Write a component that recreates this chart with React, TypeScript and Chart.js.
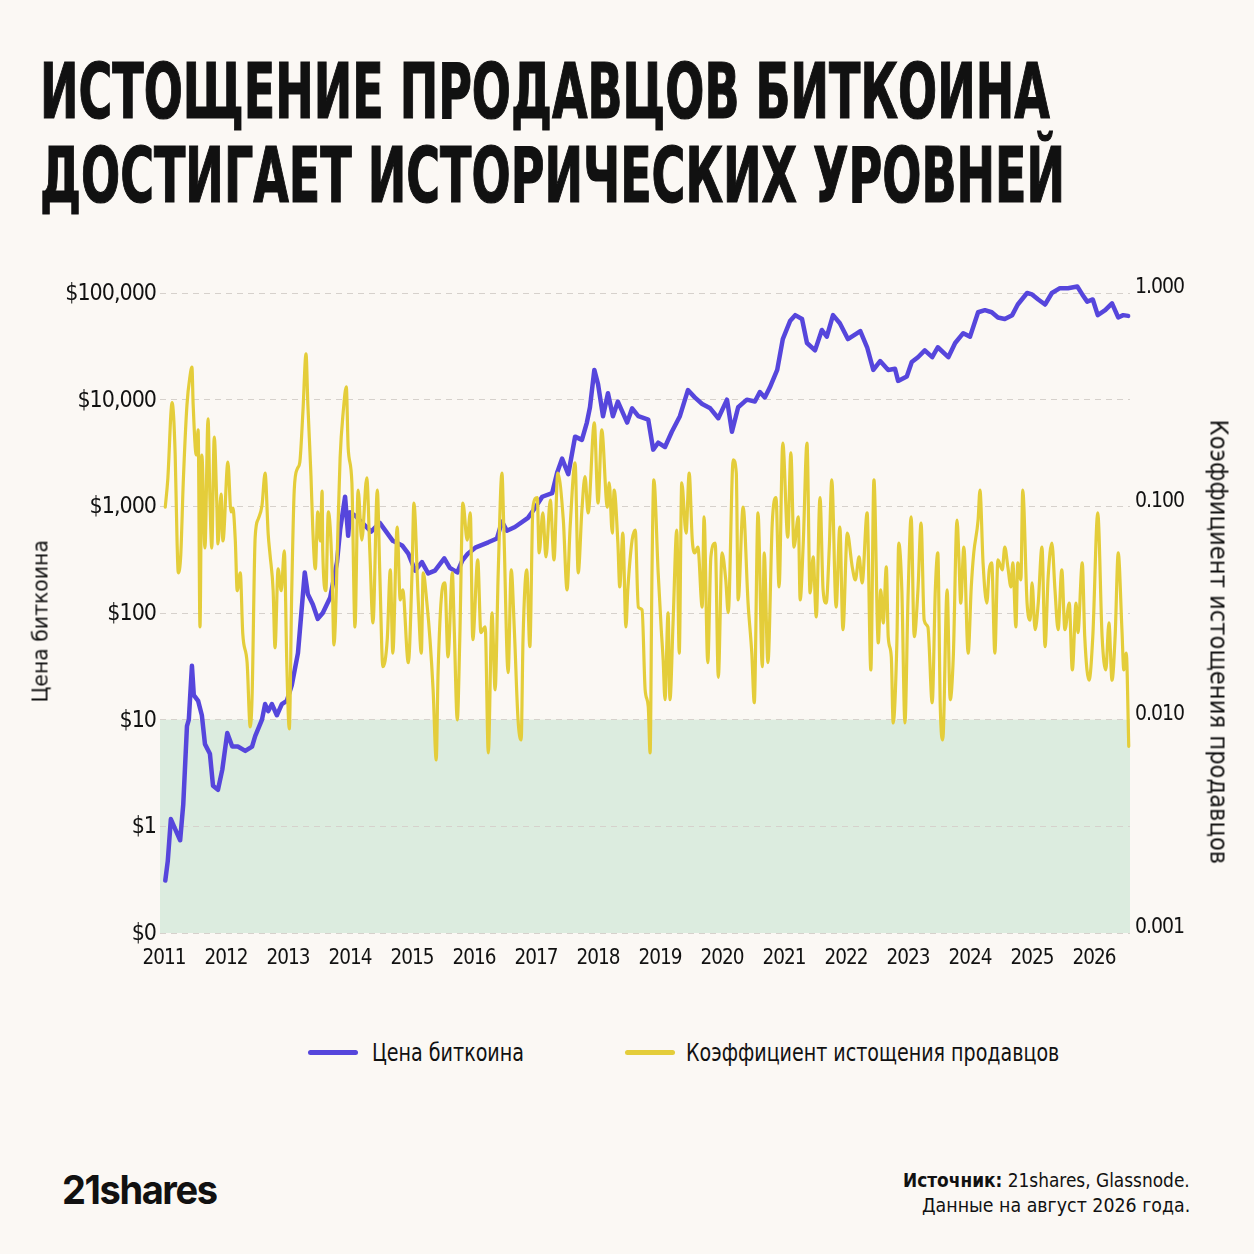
import React, { useEffect, useLayoutEffect, useRef } from 'react';
import { Chart, registerables } from 'chart.js';

Chart.register(...registerables);

// ---------- DATA ----------
const yearTicks = [2011, 2012, 2013, 2014, 2015, 2016, 2017, 2018, 2019, 2020, 2021, 2022, 2023, 2024, 2025, 2026];
const priceTicks = [0.1, 1, 10, 100, 1000, 10000, 100000];
const priceTickLabels = ['$0', '$1', '$10', '$100', '$1,000', '$10,000', '$100,000'];
const ratioTicks = [0.001, 0.01, 0.1, 1];
const ratioTickLabels = ['0.001', '0.010', '0.100', '1.000'];
const zoneTopPrice = 10;

const priceYears = [
  2011.02, 2011.06, 2011.11, 2011.18, 2011.26, 2011.31, 2011.37, 2011.40, 2011.45, 2011.48,
  2011.55, 2011.61, 2011.66, 2011.74, 2011.79, 2011.87, 2011.94, 2012.02, 2012.10, 2012.19,
  2012.31, 2012.42, 2012.47, 2012.58, 2012.63, 2012.68, 2012.74, 2012.82, 2012.90, 2012.98,
  2013.06, 2013.16, 2013.27, 2013.32, 2013.40, 2013.48, 2013.56, 2013.68, 2013.79, 2013.84,
  2013.92, 2013.97, 2014.00, 2014.08, 2014.34, 2014.48, 2014.69, 2014.84, 2014.94, 2015.05,
  2015.16, 2015.26, 2015.37, 2015.52, 2015.61, 2015.73, 2015.81, 2015.90, 2016.02, 2016.23,
  2016.37, 2016.45, 2016.53, 2016.66, 2016.87, 2016.98, 2017.10, 2017.26, 2017.34, 2017.42,
  2017.52, 2017.63, 2017.74, 2017.82, 2017.87, 2017.94, 2018.00, 2018.08, 2018.16, 2018.24,
  2018.32, 2018.47, 2018.55, 2018.65, 2018.81, 2018.89, 2018.97, 2019.08, 2019.19, 2019.32,
  2019.45, 2019.56, 2019.68, 2019.81, 2019.94, 2020.08, 2020.16, 2020.26, 2020.40, 2020.53,
  2020.61, 2020.69, 2020.77, 2020.89, 2020.98, 2021.10, 2021.18, 2021.29, 2021.37, 2021.50,
  2021.61, 2021.69, 2021.79, 2021.90, 2022.03, 2022.15, 2022.23, 2022.34, 2022.44, 2022.55,
  2022.68, 2022.79, 2022.84, 2022.98, 2023.06, 2023.16, 2023.27, 2023.39, 2023.48, 2023.65,
  2023.76, 2023.89, 2024.00, 2024.13, 2024.24, 2024.35, 2024.45, 2024.56, 2024.68, 2024.77,
  2024.92, 2025.00, 2025.10, 2025.21, 2025.32, 2025.45, 2025.58, 2025.73, 2025.81, 2025.89,
  2025.98, 2026.06, 2026.18, 2026.29, 2026.39, 2026.47, 2026.55,
];
const priceValues = [
  0.31, 0.47, 1.17, 0.94, 0.74, 1.6, 8.7, 10, 32, 17,
  15, 11, 5.9, 4.8, 2.4, 2.2, 3.4, 7.5, 5.6, 5.6,
  5.1, 5.6, 7.0, 10, 14, 12, 14, 11, 14, 15,
  21, 42, 240, 150, 120, 88, 100, 140, 300, 600,
  1230, 530, 880, 820, 580, 700, 475, 430, 360, 250,
  300, 235, 250, 325, 265, 240, 310, 360, 410, 460,
  500, 720, 590, 640, 780, 960, 1230, 1330, 2060, 2800,
  2000, 4500, 4200, 6100, 8500, 19000, 14000, 7000, 11500, 7000,
  9600, 6100, 8300, 7000, 6500, 3400, 3950, 3600, 5000, 7000,
  12300, 10500, 9100, 8300, 6700, 10000, 5000, 8500, 10000, 9600,
  11800, 10500, 13000, 19000, 37000, 55000, 62000, 57000, 34000, 29000,
  45000, 39000, 62000, 52000, 37000, 41000, 44000, 31000, 19000, 23000,
  19000, 19500, 15000, 16500, 22500, 25000, 29000, 25000, 31000, 25000,
  34000, 42000, 39000, 66000, 69000, 66000, 59000, 57000, 62000, 78000,
  100000, 97000, 87000, 78000, 100000, 111000, 111000, 115000, 97000, 83000,
  87000, 62000, 69000, 80000, 59000, 62000, 61000,
];

const ratioYears = [
  2011.02, 2011.06, 2011.13, 2011.18, 2011.21, 2011.23, 2011.27, 2011.31, 2011.37, 2011.42,
  2011.45, 2011.47, 2011.52, 2011.55, 2011.58, 2011.61, 2011.66, 2011.71, 2011.74, 2011.77,
  2011.81, 2011.85, 2011.87, 2011.92, 2011.95, 2012.03, 2012.08, 2012.11, 2012.15, 2012.18,
  2012.23, 2012.27, 2012.34, 2012.39, 2012.42, 2012.47, 2012.52, 2012.58, 2012.63, 2012.68,
  2012.71, 2012.76, 2012.79, 2012.84, 2012.89, 2012.94, 2012.98, 2013.02, 2013.06, 2013.10,
  2013.15, 2013.19, 2013.24, 2013.29, 2013.32, 2013.37, 2013.40, 2013.44, 2013.48, 2013.52,
  2013.55, 2013.56, 2013.61, 2013.65, 2013.71, 2013.74, 2013.81, 2013.84, 2013.89, 2013.94,
  2013.97, 2014.03, 2014.08, 2014.13, 2014.19, 2014.27, 2014.32, 2014.37, 2014.44, 2014.48,
  2014.53, 2014.60, 2014.65, 2014.69, 2014.76, 2014.81, 2014.85, 2014.94, 2015.00, 2015.03,
  2015.10, 2015.15, 2015.18, 2015.24, 2015.29, 2015.34, 2015.39, 2015.42, 2015.48, 2015.53,
  2015.58, 2015.65, 2015.68, 2015.73, 2015.77, 2015.82, 2015.89, 2015.94, 2015.98, 2016.06,
  2016.11, 2016.18, 2016.23, 2016.29, 2016.34, 2016.39, 2016.45, 2016.48, 2016.55, 2016.60,
  2016.65, 2016.71, 2016.76, 2016.79, 2016.85, 2016.90, 2016.95, 2017.02, 2017.05, 2017.11,
  2017.16, 2017.23, 2017.29, 2017.35, 2017.44, 2017.50, 2017.55, 2017.63, 2017.68, 2017.74,
  2017.79, 2017.84, 2017.94, 2018.00, 2018.06, 2018.15, 2018.18, 2018.23, 2018.26, 2018.32,
  2018.35, 2018.40, 2018.45, 2018.48, 2018.55, 2018.60, 2018.65, 2018.71, 2018.76, 2018.81,
  2018.84, 2018.87, 2018.90, 2018.97, 2019.02, 2019.05, 2019.08, 2019.13, 2019.16, 2019.21,
  2019.27, 2019.31, 2019.35, 2019.42, 2019.47, 2019.52, 2019.56, 2019.61, 2019.68, 2019.71,
  2019.77, 2019.82, 2019.89, 2019.94, 2020.00, 2020.06, 2020.10, 2020.18, 2020.23, 2020.26,
  2020.34, 2020.42, 2020.48, 2020.52, 2020.58, 2020.65, 2020.68, 2020.74, 2020.81, 2020.87,
  2020.92, 2020.98, 2021.06, 2021.11, 2021.16, 2021.23, 2021.26, 2021.31, 2021.37, 2021.42,
  2021.47, 2021.52, 2021.58, 2021.63, 2021.68, 2021.73, 2021.77, 2021.84, 2021.90, 2021.95,
  2022.02, 2022.10, 2022.15, 2022.21, 2022.26, 2022.34, 2022.40, 2022.45, 2022.52, 2022.56,
  2022.60, 2022.65, 2022.68, 2022.73, 2022.76, 2022.82, 2022.85, 2022.90, 2022.95, 2023.00,
  2023.05, 2023.10, 2023.16, 2023.21, 2023.26, 2023.32, 2023.39, 2023.44, 2023.48, 2023.52,
  2023.56, 2023.63, 2023.68, 2023.73, 2023.79, 2023.82, 2023.85, 2023.90, 2023.97, 2024.02,
  2024.06, 2024.13, 2024.16, 2024.21, 2024.27, 2024.31, 2024.35, 2024.40, 2024.45, 2024.52,
  2024.56, 2024.61, 2024.66, 2024.69, 2024.74, 2024.77, 2024.82, 2024.85, 2024.92, 2024.97,
  2025.00, 2025.05, 2025.10, 2025.16, 2025.21, 2025.26, 2025.32, 2025.37, 2025.42, 2025.48,
  2025.53, 2025.60, 2025.65, 2025.71, 2025.74, 2025.81, 2025.85, 2025.92, 2025.98, 2026.06,
  2026.13, 2026.19, 2026.24, 2026.29, 2026.34, 2026.39, 2026.45, 2026.48, 2026.52, 2026.56,
];
const ratioValues = [
  0.0992, 0.133, 0.306, 0.174, 0.0688, 0.0488, 0.0592, 0.129, 0.299, 0.409,
  0.449, 0.299, 0.174, 0.228, 0.0272, 0.174, 0.0638, 0.257, 0.109, 0.0638,
  0.211, 0.106, 0.0666, 0.114, 0.0688, 0.161, 0.0941, 0.0982, 0.0688, 0.0402,
  0.0488, 0.0253, 0.0185, 0.00924, 0.0127, 0.0717, 0.0873, 0.101, 0.143, 0.0741,
  0.0592, 0.0402, 0.0217, 0.0509, 0.0402, 0.0618, 0.0185, 0.00905, 0.0402, 0.119,
  0.150, 0.161, 0.277, 0.518, 0.299, 0.139, 0.0774, 0.0509, 0.0941, 0.0688,
  0.118, 0.0618, 0.0402, 0.0941, 0.0509, 0.0224, 0.0873, 0.169, 0.277, 0.363,
  0.188, 0.129, 0.0272, 0.119, 0.0695, 0.136, 0.0605, 0.0284, 0.119, 0.0488,
  0.0177, 0.0237, 0.0504, 0.0205, 0.0800, 0.0364, 0.0406, 0.0185, 0.0488, 0.1036,
  0.0364, 0.0205, 0.0488, 0.0352, 0.0237, 0.0138, 0.00647, 0.0166, 0.0393, 0.0438,
  0.0197, 0.0488, 0.0272, 0.00997, 0.0237, 0.1036, 0.0695, 0.0931, 0.0237, 0.0561,
  0.0256, 0.0272, 0.00698, 0.0317, 0.0138, 0.0488, 0.143, 0.0800, 0.0166, 0.0504,
  0.0264, 0.00997, 0.00803, 0.0237, 0.0504, 0.0220, 0.0992, 0.110, 0.0605, 0.0931,
  0.0579, 0.107, 0.0561, 0.143, 0.0863, 0.0406, 0.0800, 0.160, 0.0488, 0.0962,
  0.138, 0.0931, 0.246, 0.1036, 0.228, 0.0992, 0.129, 0.0749, 0.119, 0.0673,
  0.0419, 0.0749, 0.0272, 0.0406, 0.0695, 0.0774, 0.0337, 0.0327, 0.0138, 0.0115,
  0.00698, 0.0488, 0.133, 0.0488, 0.0264, 0.0191, 0.0124, 0.0317, 0.0124, 0.0284,
  0.0774, 0.0205, 0.129, 0.0749, 0.143, 0.0695, 0.0605, 0.0644, 0.0337, 0.0892,
  0.0185, 0.0579, 0.0673, 0.0158, 0.0605, 0.0452, 0.0317, 0.165, 0.143, 0.0364,
  0.0992, 0.0352, 0.0205, 0.0120, 0.0931, 0.0177, 0.0605, 0.0185, 0.0835, 0.110,
  0.0419, 0.198, 0.0717, 0.178, 0.0644, 0.0892, 0.0364, 0.0673, 0.198, 0.0393,
  0.0579, 0.0303, 0.110, 0.0406, 0.0352, 0.0644, 0.133, 0.0337, 0.0800, 0.0264,
  0.0749, 0.0520, 0.0452, 0.0579, 0.0438, 0.0931, 0.0171, 0.133, 0.0229, 0.0406,
  0.0284, 0.0520, 0.0245, 0.0197, 0.00965, 0.0229, 0.0673, 0.0406, 0.00965, 0.0376,
  0.0892, 0.0245, 0.0406, 0.0835, 0.0293, 0.0272, 0.0120, 0.0406, 0.0605, 0.0115,
  0.00803, 0.0406, 0.0124, 0.0197, 0.0863, 0.0579, 0.0352, 0.0644, 0.0205, 0.0419,
  0.0605, 0.0863, 0.119, 0.0543, 0.0352, 0.0504, 0.0543, 0.0205, 0.0561, 0.0504,
  0.0644, 0.0520, 0.0419, 0.0543, 0.0272, 0.0543, 0.0452, 0.119, 0.0352, 0.0293,
  0.0438, 0.0264, 0.0352, 0.0644, 0.0220, 0.0467, 0.0673, 0.0406, 0.0264, 0.0504,
  0.0264, 0.0352, 0.0171, 0.0352, 0.0256, 0.0543, 0.0245, 0.0153, 0.0245, 0.0931,
  0.0245, 0.0171, 0.0284, 0.0153, 0.0245, 0.0605, 0.0264, 0.0171, 0.0205, 0.0075,
];

// ---------- STYLE ----------
const BG = '#fbf8f4';
const BLUE = '#5646dc';
const YELLOW = '#e4cd3a';
const ZONE = '#dcecdf';
const GRID = '#d6d1cc';
const INK = '#111111';
const NARROW = '"Liberation Sans Narrow", "Arial Narrow", "DejaVu Sans Condensed", sans-serif';
const LOGO = 'Inter, "Noto Sans", sans-serif';

function labelFor(ticks: number[], labels: string[], v: number) {
  const i = ticks.findIndex((t) => Math.abs(Math.log10(t) - Math.log10(v)) < 1e-6);
  return i >= 0 ? labels[i] : '';
}

const zonePlugin = {
  id: 'lowZone',
  beforeDraw(chart: any) {
    const { ctx, chartArea, scales } = chart;
    try {
      (ctx as any).letterSpacing = '-1px';
    } catch (e) {
      /* ignore */
    }
    const yTop = scales.y.getPixelForValue(zoneTopPrice);
    ctx.save();
    ctx.fillStyle = ZONE;
    ctx.fillRect(chartArea.left, yTop, chartArea.right - chartArea.left, chartArea.bottom - yTop);
    ctx.restore();
  },
};

type FitProps = {
  children: React.ReactNode;
  left: number;
  top: number;
  width: number;
  size: number;
  family: string;
  weight?: number | string;
  rotate?: number;
  spacing?: number;
  stroke?: number;
};

function FitText({ children, left, top, width, size, family, weight = 400, rotate = 0, spacing = 0, stroke = 0 }: FitProps) {
  const ref = useRef<HTMLSpanElement>(null);
  useLayoutEffect(() => {
    const fit = () => {
      const el = ref.current;
      if (!el) return;
      el.style.transform = 'none';
      const w = el.offsetWidth;
      if (w > 0) el.style.transform = `scaleX(${width / w})`;
    };
    fit();
    const fonts = (document as any).fonts;
    if (fonts && fonts.ready) fonts.ready.then(fit);
  });
  return (
    <div
      style={{
        position: 'absolute',
        left,
        top,
        width,
        height: size,
        lineHeight: `${size}px`,
        whiteSpace: 'nowrap',
        transform: rotate ? `rotate(${rotate}deg)` : undefined,
      }}
    >
      <span
        ref={ref}
        style={{
          display: 'inline-block',
          transformOrigin: '0 50%',
          fontFamily: family,
          fontSize: size,
          fontWeight: weight as any,
          color: INK,
          letterSpacing: spacing,
          WebkitTextStroke: stroke ? `${stroke}px ${INK}` : undefined,
        }}
      >
        {children}
      </span>
    </div>
  );
}

function PriceChart() {
  const canvasRef = useRef<HTMLCanvasElement>(null);
  useEffect(() => {
    const canvas = canvasRef.current;
    if (!canvas) return;
    const chart = new Chart(canvas, {
      type: 'line',
      data: {
        datasets: [
          {
            label: 'Цена биткоина',
            data: priceYears.map((x, i) => ({ x, y: priceValues[i] })),
            yAxisID: 'y',
            borderColor: BLUE,
            borderWidth: 4.5,
            borderJoinStyle: 'round',
            borderCapStyle: 'round',
            pointRadius: 0,
            tension: 0,
            clip: false as any,
            order: 2,
          },
          {
            label: 'Коэффициент истощения продавцов',
            data: ratioYears.map((x, i) => ({ x, y: ratioValues[i] })),
            yAxisID: 'y2',
            borderColor: YELLOW,
            borderWidth: 3.2,
            borderJoinStyle: 'round',
            borderCapStyle: 'round',
            cubicInterpolationMode: 'monotone',
            pointRadius: 0,
            clip: false as any,
            order: 1,
          },
        ],
      },
      options: {
        animation: false,
        responsive: false,
        maintainAspectRatio: false,
        layout: { padding: { top: 33, bottom: 0, left: 0, right: 0 } },
        plugins: { legend: { display: false }, tooltip: { enabled: false } },
        scales: {
          x: {
            type: 'linear',
            min: 2010.935,
            max: 2026.58,
            afterBuildTicks: (s: any) => {
              s.ticks = yearTicks.map((value) => ({ value }));
            },
            afterFit: (s: any) => {
              s.height = 47;
            },
            ticks: {
              callback: (v: any) => String(v),
              font: { family: NARROW, size: 20.5 },
              color: INK,
              padding: 13,
              maxRotation: 0,
              autoSkip: false,
            },
            grid: { display: false, drawTicks: false },
            border: { display: false },
          },
          y: {
            type: 'logarithmic',
            position: 'left',
            min: 0.1,
            max: 100000,
            afterBuildTicks: (s: any) => {
              s.ticks = priceTicks.map((value) => ({ value }));
            },
            afterFit: (s: any) => {
              s.width = 160;
            },
            ticks: {
              callback: (v: any) => labelFor(priceTicks, priceTickLabels, Number(v)),
              font: { family: NARROW, size: 23 },
              color: INK,
              padding: 4,
              labelOffset: 1,
              autoSkip: false,
            },
            grid: { color: GRID, lineWidth: 1, drawTicks: false },
            border: { display: false, dash: [6, 5] },
          },
          y2: {
            type: 'logarithmic',
            position: 'right',
            min: 0.001,
            max: 1,
            afterBuildTicks: (s: any) => {
              s.ticks = ratioTicks.map((value) => ({ value }));
            },
            afterFit: (s: any) => {
              s.width = 124;
            },
            ticks: {
              callback: (v: any) => labelFor(ratioTicks, ratioTickLabels, Number(v)),
              font: { family: NARROW, size: 21 },
              color: INK,
              padding: 5,
              labelOffset: -5,
              autoSkip: false,
            },
            grid: { display: false, drawTicks: false },
            border: { display: false },
          },
        },
      } as any,
      plugins: [zonePlugin],
    });
    return () => chart.destroy();
  }, []);
  return (
    <canvas
      ref={canvasRef}
      width={1254}
      height={720}
      style={{ position: 'absolute', left: 0, top: 260, width: 1254, height: 720 }}
    />
  );
}

export default function App() {
  return (
    <div
      style={{
        position: 'fixed',
        left: 0,
        top: 0,
        width: 1254,
        height: 1254,
        background: BG,
        overflow: 'hidden',
      }}
    >
      <FitText left={40} top={54} width={1010} size={76} family={NARROW} weight={700} stroke={1.2}>
        ИСТОЩЕНИЕ ПРОДАВЦОВ БИТКОИНА
      </FitText>
      <FitText left={40} top={138} width={1025} size={76} family={NARROW} weight={700} stroke={1.2}>
        ДОСТИГАЕТ ИСТОРИЧЕСКИХ УРОВНЕЙ
      </FitText>

      <PriceChart />

      <FitText left={40 - 81.5} top={621 - 11} width={163} size={22} family={NARROW} rotate={-90}>
        Цена биткоина
      </FitText>
      <FitText left={1218 - 222.5} top={642 - 12} width={445} size={24} family={NARROW} rotate={90}>
        Коэффициент истощения продавцов
      </FitText>

      <div style={{ position: 'absolute', left: 308, top: 1050, width: 50, height: 5, borderRadius: 3, background: BLUE }} />
      <FitText left={372} top={1040} width={152} size={25} family={NARROW}>
        Цена биткоина
      </FitText>
      <div style={{ position: 'absolute', left: 625, top: 1050, width: 50, height: 5, borderRadius: 3, background: YELLOW }} />
      <FitText left={686} top={1040} width={373} size={25} family={NARROW}>
        Коэффициент истощения продавцов
      </FitText>

      <FitText left={62} top={1170} width={155} size={40} family={LOGO} weight={700} spacing={-1.5}>
        21shares
      </FitText>
      <FitText left={903} top={1171} width={287} size={19} family={NARROW}>
        <b>Источник:</b> 21shares, Glassnode.
      </FitText>
      <FitText left={922} top={1196} width={268} size={19} family={NARROW}>
        Данные на август 2026 года.
      </FitText>
    </div>
  );
}
